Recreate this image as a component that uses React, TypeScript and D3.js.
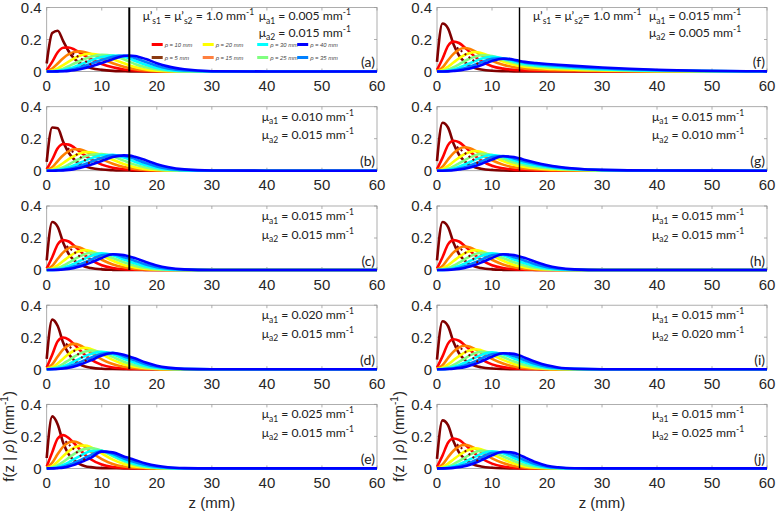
import React from 'react';
import * as d3 from 'd3';

const Z = [0, 1, 2, 3, 4, 5, 6, 7, 8, 10, 12, 14, 15, 16, 18, 20, 22, 25, 30, 40, 60];
const RHO = [5, 10, 15, 20, 25, 30, 35, 40];
const JET = ['#800000', '#ff0000', '#ff8000', '#ffff00', '#80ff80', '#00ffff', '#0080ff', '#0000ff'];
const X_TICKS = [0, 10, 20, 30, 40, 50, 60];
const Y_TICKS = [0, 0.2, 0.4];
const Y_TICK_LABELS = ['0', '0.2', '0.4'];
const LAYER_DEPTH = 15;
const PANEL_LABELS = ['a', 'b', 'c', 'd', 'e', 'f', 'g', 'h', 'i', 'j'];
const MUA1 = ['0.005', '0.010', '0.015', '0.020', '0.025', '0.015', '0.015', '0.015', '0.015', '0.015'];
const MUA2 = ['0.015', '0.015', '0.015', '0.015', '0.015', '0.005', '0.010', '0.015', '0.020', '0.025'];

// legend: [rho, colour] in display order (two rows of four)
const LEGEND_ROW1 = [[10, '#ff0000'], [20, '#ffff00'], [30, '#00ffff'], [40, '#0000ff']];
const LEGEND_ROW2 = [[5, '#8b3a12'], [15, '#ff8040'], [25, '#80ff80'], [35, '#0080ff']];

const panelA = [
  [0.05, 0.24, 0.255, 0.19, 0.125, 0.08, 0.052, 0.033, 0.022, 0.01, 0.004, 0.002, 0.001, 0.001, 0, 0, 0, 0, 0, 0, 0],
  [0.008, 0.06, 0.12, 0.148, 0.15, 0.138, 0.118, 0.097, 0.078, 0.047, 0.026, 0.013, 0.009, 0.006, 0.002, 0.001, 0, 0, 0, 0, 0],
  [0.002, 0.018, 0.05, 0.083, 0.108, 0.122, 0.126, 0.12, 0.11, 0.08, 0.052, 0.03, 0.021, 0.014, 0.006, 0.002, 0.001, 0, 0, 0, 0],
  [0.001, 0.006, 0.02, 0.04, 0.062, 0.082, 0.098, 0.108, 0.111, 0.1, 0.077, 0.052, 0.039, 0.028, 0.013, 0.005, 0.002, 0, 0, 0, 0],
  [0, 0.002, 0.008, 0.018, 0.033, 0.05, 0.066, 0.08, 0.092, 0.105, 0.098, 0.076, 0.062, 0.047, 0.026, 0.012, 0.005, 0.001, 0, 0, 0],
  [0, 0.001, 0.003, 0.009, 0.018, 0.029, 0.042, 0.056, 0.069, 0.09, 0.1, 0.093, 0.082, 0.067, 0.042, 0.022, 0.01, 0.003, 0, 0, 0],
  [0, 0, 0.001, 0.004, 0.009, 0.016, 0.025, 0.036, 0.048, 0.072, 0.092, 0.1, 0.096, 0.084, 0.06, 0.036, 0.019, 0.006, 0.001, 0, 0],
  [0, 0, 0.001, 0.002, 0.004, 0.008, 0.014, 0.022, 0.031, 0.053, 0.077, 0.097, 0.1, 0.097, 0.078, 0.052, 0.032, 0.014, 0.002, 0, 0],
];
const panelB = [
  [0.055, 0.27, 0.265, 0.18, 0.112, 0.07, 0.043, 0.027, 0.017, 0.007, 0.003, 0.001, 0.001, 0, 0, 0, 0, 0, 0, 0, 0],
  [0.009, 0.07, 0.14, 0.167, 0.163, 0.145, 0.12, 0.094, 0.072, 0.038, 0.019, 0.009, 0.006, 0.004, 0.002, 0, 0, 0, 0, 0, 0],
  [0.003, 0.021, 0.06, 0.096, 0.122, 0.134, 0.133, 0.122, 0.106, 0.072, 0.043, 0.023, 0.016, 0.011, 0.004, 0.002, 0, 0, 0, 0, 0],
  [0.001, 0.008, 0.025, 0.048, 0.072, 0.093, 0.108, 0.116, 0.115, 0.097, 0.068, 0.042, 0.031, 0.022, 0.01, 0.004, 0.001, 0, 0, 0, 0],
  [0, 0.003, 0.01, 0.022, 0.039, 0.058, 0.075, 0.09, 0.1, 0.104, 0.088, 0.063, 0.05, 0.038, 0.02, 0.009, 0.003, 0.001, 0, 0, 0],
  [0, 0.001, 0.004, 0.011, 0.021, 0.034, 0.049, 0.063, 0.077, 0.097, 0.099, 0.082, 0.07, 0.056, 0.034, 0.017, 0.007, 0.002, 0, 0, 0],
  [0, 0, 0.002, 0.005, 0.011, 0.019, 0.03, 0.042, 0.055, 0.08, 0.096, 0.092, 0.085, 0.073, 0.048, 0.027, 0.013, 0.004, 0, 0, 0],
  [0, 0, 0.001, 0.002, 0.005, 0.01, 0.017, 0.026, 0.037, 0.061, 0.085, 0.096, 0.094, 0.087, 0.065, 0.041, 0.023, 0.008, 0.001, 0, 0],
];
const panelC = [
  [0.06, 0.3, 0.27, 0.17, 0.1, 0.06, 0.035, 0.02, 0.012, 0.004, 0.001, 0, 0, 0, 0, 0, 0, 0, 0, 0, 0],
  [0.01, 0.08, 0.16, 0.187, 0.178, 0.152, 0.12, 0.09, 0.065, 0.03, 0.013, 0.005, 0.003, 0.002, 0.001, 0, 0, 0, 0, 0, 0],
  [0.003, 0.025, 0.07, 0.11, 0.137, 0.147, 0.14, 0.124, 0.103, 0.064, 0.035, 0.017, 0.011, 0.007, 0.003, 0.001, 0, 0, 0, 0, 0],
  [0.001, 0.009, 0.03, 0.056, 0.082, 0.104, 0.118, 0.124, 0.118, 0.09, 0.058, 0.032, 0.023, 0.016, 0.007, 0.003, 0.001, 0, 0, 0, 0],
  [0, 0.003, 0.012, 0.027, 0.046, 0.066, 0.085, 0.1, 0.108, 0.1, 0.075, 0.048, 0.037, 0.027, 0.013, 0.005, 0.002, 0, 0, 0, 0],
  [0, 0.001, 0.005, 0.013, 0.025, 0.04, 0.056, 0.072, 0.087, 0.104, 0.092, 0.066, 0.053, 0.042, 0.022, 0.01, 0.004, 0.001, 0, 0, 0],
  [0, 0, 0.002, 0.006, 0.013, 0.023, 0.035, 0.049, 0.064, 0.092, 0.098, 0.08, 0.07, 0.058, 0.035, 0.018, 0.008, 0.002, 0, 0, 0],
  [0, 0, 0.001, 0.003, 0.007, 0.013, 0.022, 0.033, 0.046, 0.075, 0.098, 0.093, 0.085, 0.075, 0.05, 0.028, 0.014, 0.004, 0, 0, 0],
];
const panelD = [
  [0.065, 0.31, 0.27, 0.165, 0.095, 0.055, 0.031, 0.017, 0.01, 0.003, 0.001, 0, 0, 0, 0, 0, 0, 0, 0, 0, 0],
  [0.011, 0.09, 0.175, 0.198, 0.185, 0.155, 0.12, 0.088, 0.061, 0.027, 0.011, 0.004, 0.002, 0.001, 0, 0, 0, 0, 0, 0, 0],
  [0.004, 0.03, 0.08, 0.124, 0.15, 0.158, 0.15, 0.13, 0.105, 0.062, 0.032, 0.015, 0.01, 0.006, 0.002, 0.001, 0, 0, 0, 0, 0],
  [0.001, 0.012, 0.036, 0.066, 0.095, 0.117, 0.13, 0.134, 0.127, 0.094, 0.058, 0.031, 0.022, 0.015, 0.006, 0.002, 0, 0, 0, 0, 0],
  [0, 0.005, 0.016, 0.034, 0.056, 0.078, 0.097, 0.11, 0.117, 0.106, 0.077, 0.047, 0.035, 0.025, 0.011, 0.004, 0.001, 0, 0, 0, 0],
  [0, 0.002, 0.007, 0.017, 0.032, 0.049, 0.066, 0.082, 0.095, 0.108, 0.094, 0.065, 0.052, 0.04, 0.02, 0.009, 0.003, 0.001, 0, 0, 0],
  [0, 0.001, 0.003, 0.008, 0.017, 0.029, 0.043, 0.058, 0.072, 0.097, 0.102, 0.08, 0.068, 0.055, 0.031, 0.015, 0.006, 0.001, 0, 0, 0],
  [0, 0, 0.001, 0.004, 0.009, 0.017, 0.028, 0.041, 0.055, 0.085, 0.101, 0.09, 0.08, 0.068, 0.042, 0.022, 0.01, 0.002, 0, 0, 0],
];
const panelE = [
  [0.065, 0.325, 0.275, 0.16, 0.088, 0.049, 0.027, 0.014, 0.008, 0.002, 0.001, 0, 0, 0, 0, 0, 0, 0, 0, 0, 0],
  [0.012, 0.1, 0.187, 0.208, 0.19, 0.156, 0.118, 0.084, 0.057, 0.024, 0.009, 0.003, 0.002, 0.001, 0, 0, 0, 0, 0, 0, 0],
  [0.004, 0.035, 0.09, 0.136, 0.162, 0.168, 0.156, 0.132, 0.104, 0.058, 0.028, 0.012, 0.008, 0.005, 0.002, 0, 0, 0, 0, 0, 0],
  [0.001, 0.014, 0.043, 0.077, 0.108, 0.13, 0.142, 0.143, 0.133, 0.094, 0.055, 0.028, 0.019, 0.012, 0.005, 0.002, 0, 0, 0, 0, 0],
  [0, 0.006, 0.02, 0.041, 0.066, 0.091, 0.11, 0.122, 0.127, 0.11, 0.076, 0.044, 0.032, 0.022, 0.009, 0.003, 0.001, 0, 0, 0, 0],
  [0, 0.002, 0.009, 0.021, 0.038, 0.058, 0.077, 0.095, 0.108, 0.11, 0.082, 0.05, 0.038, 0.029, 0.014, 0.006, 0.002, 0, 0, 0, 0],
  [0, 0.001, 0.004, 0.01, 0.021, 0.035, 0.05, 0.067, 0.083, 0.108, 0.092, 0.062, 0.05, 0.04, 0.022, 0.01, 0.004, 0.001, 0, 0, 0],
  [0, 0, 0.002, 0.005, 0.012, 0.022, 0.036, 0.05, 0.066, 0.105, 0.1, 0.075, 0.064, 0.053, 0.031, 0.016, 0.007, 0.002, 0, 0, 0],
];
const panelF = [
  [0.06, 0.3, 0.27, 0.17, 0.1, 0.06, 0.035, 0.02, 0.013, 0.005, 0.002, 0.001, 0.001, 0.001, 0, 0, 0, 0, 0, 0, 0],
  [0.01, 0.08, 0.16, 0.187, 0.178, 0.152, 0.12, 0.09, 0.066, 0.033, 0.018, 0.01, 0.008, 0.007, 0.005, 0.004, 0.003, 0.002, 0.001, 0, 0],
  [0.003, 0.025, 0.07, 0.11, 0.137, 0.147, 0.14, 0.124, 0.104, 0.067, 0.042, 0.027, 0.022, 0.018, 0.013, 0.01, 0.008, 0.006, 0.003, 0.001, 0],
  [0.001, 0.009, 0.03, 0.056, 0.082, 0.103, 0.116, 0.122, 0.116, 0.09, 0.062, 0.042, 0.035, 0.03, 0.023, 0.018, 0.015, 0.011, 0.007, 0.002, 0],
  [0, 0.003, 0.012, 0.027, 0.045, 0.064, 0.081, 0.094, 0.102, 0.096, 0.074, 0.054, 0.046, 0.04, 0.032, 0.026, 0.022, 0.017, 0.011, 0.004, 0],
  [0, 0.001, 0.005, 0.013, 0.024, 0.038, 0.052, 0.066, 0.079, 0.092, 0.082, 0.063, 0.055, 0.048, 0.04, 0.034, 0.029, 0.023, 0.015, 0.006, 0],
  [0, 0, 0.002, 0.006, 0.012, 0.021, 0.032, 0.044, 0.056, 0.08, 0.083, 0.07, 0.062, 0.055, 0.047, 0.041, 0.036, 0.029, 0.02, 0.008, 0.001],
  [0, 0, 0.001, 0.003, 0.006, 0.012, 0.019, 0.028, 0.039, 0.066, 0.08, 0.074, 0.066, 0.06, 0.053, 0.047, 0.042, 0.035, 0.025, 0.011, 0.001],
];
const panelG = [
  [0.06, 0.3, 0.27, 0.17, 0.1, 0.06, 0.035, 0.02, 0.012, 0.004, 0.001, 0, 0, 0, 0, 0, 0, 0, 0, 0, 0],
  [0.01, 0.08, 0.16, 0.187, 0.178, 0.152, 0.12, 0.09, 0.065, 0.031, 0.015, 0.007, 0.005, 0.004, 0.002, 0.001, 0, 0, 0, 0, 0],
  [0.003, 0.025, 0.07, 0.11, 0.137, 0.147, 0.14, 0.124, 0.103, 0.065, 0.038, 0.021, 0.016, 0.012, 0.008, 0.005, 0.003, 0.002, 0, 0, 0],
  [0.001, 0.009, 0.03, 0.056, 0.082, 0.104, 0.117, 0.123, 0.117, 0.09, 0.06, 0.037, 0.029, 0.023, 0.015, 0.01, 0.007, 0.004, 0.001, 0, 0],
  [0, 0.003, 0.012, 0.027, 0.046, 0.065, 0.083, 0.097, 0.105, 0.098, 0.075, 0.051, 0.042, 0.035, 0.024, 0.016, 0.011, 0.006, 0.002, 0, 0],
  [0, 0.001, 0.005, 0.013, 0.025, 0.039, 0.054, 0.069, 0.083, 0.098, 0.087, 0.065, 0.055, 0.046, 0.033, 0.023, 0.016, 0.009, 0.003, 0, 0],
  [0, 0, 0.002, 0.006, 0.013, 0.022, 0.033, 0.046, 0.057, 0.086, 0.092, 0.076, 0.067, 0.057, 0.042, 0.03, 0.021, 0.012, 0.004, 0.001, 0],
  [0, 0, 0.001, 0.003, 0.007, 0.012, 0.02, 0.03, 0.042, 0.07, 0.09, 0.085, 0.077, 0.067, 0.05, 0.036, 0.025, 0.014, 0.005, 0.001, 0],
];
const panelH = [
  [0.06, 0.3, 0.27, 0.17, 0.1, 0.06, 0.035, 0.02, 0.012, 0.004, 0.001, 0, 0, 0, 0, 0, 0, 0, 0, 0, 0],
  [0.01, 0.08, 0.16, 0.187, 0.178, 0.152, 0.12, 0.09, 0.065, 0.03, 0.013, 0.005, 0.003, 0.002, 0.001, 0, 0, 0, 0, 0, 0],
  [0.003, 0.025, 0.07, 0.11, 0.137, 0.147, 0.14, 0.124, 0.103, 0.064, 0.035, 0.017, 0.011, 0.007, 0.003, 0.001, 0, 0, 0, 0, 0],
  [0.001, 0.009, 0.03, 0.056, 0.082, 0.104, 0.118, 0.124, 0.118, 0.09, 0.058, 0.032, 0.023, 0.016, 0.007, 0.003, 0.001, 0, 0, 0, 0],
  [0, 0.003, 0.012, 0.027, 0.046, 0.066, 0.085, 0.1, 0.108, 0.1, 0.075, 0.048, 0.037, 0.027, 0.013, 0.005, 0.002, 0, 0, 0, 0],
  [0, 0.001, 0.005, 0.013, 0.025, 0.04, 0.056, 0.072, 0.087, 0.104, 0.092, 0.066, 0.053, 0.042, 0.022, 0.01, 0.004, 0.001, 0, 0, 0],
  [0, 0, 0.002, 0.006, 0.013, 0.023, 0.035, 0.049, 0.064, 0.092, 0.098, 0.08, 0.07, 0.058, 0.035, 0.018, 0.008, 0.002, 0, 0, 0],
  [0, 0, 0.001, 0.003, 0.007, 0.013, 0.022, 0.033, 0.046, 0.075, 0.098, 0.093, 0.085, 0.075, 0.05, 0.028, 0.014, 0.004, 0, 0, 0],
];
const panelI = [
  [0.06, 0.3, 0.27, 0.17, 0.1, 0.06, 0.035, 0.02, 0.012, 0.004, 0.001, 0, 0, 0, 0, 0, 0, 0, 0, 0, 0],
  [0.01, 0.08, 0.16, 0.187, 0.178, 0.152, 0.12, 0.09, 0.065, 0.03, 0.013, 0.005, 0.003, 0.002, 0.001, 0, 0, 0, 0, 0, 0],
  [0.003, 0.025, 0.07, 0.11, 0.137, 0.147, 0.14, 0.124, 0.104, 0.064, 0.035, 0.017, 0.01, 0.006, 0.002, 0.001, 0, 0, 0, 0, 0],
  [0.001, 0.009, 0.03, 0.056, 0.082, 0.104, 0.118, 0.125, 0.119, 0.09, 0.058, 0.032, 0.022, 0.015, 0.006, 0.002, 0, 0, 0, 0, 0],
  [0, 0.003, 0.012, 0.027, 0.046, 0.066, 0.086, 0.101, 0.109, 0.101, 0.076, 0.048, 0.036, 0.026, 0.012, 0.005, 0.002, 0, 0, 0, 0],
  [0, 0.001, 0.005, 0.013, 0.025, 0.04, 0.057, 0.073, 0.089, 0.106, 0.093, 0.067, 0.053, 0.041, 0.021, 0.009, 0.004, 0.001, 0, 0, 0],
  [0, 0, 0.002, 0.006, 0.013, 0.023, 0.036, 0.05, 0.066, 0.094, 0.1, 0.082, 0.07, 0.056, 0.032, 0.016, 0.007, 0.002, 0, 0, 0],
  [0, 0, 0.001, 0.003, 0.007, 0.013, 0.023, 0.034, 0.048, 0.078, 0.1, 0.096, 0.086, 0.072, 0.045, 0.024, 0.011, 0.003, 0, 0, 0],
];
const panelJ = [
  [0.06, 0.3, 0.27, 0.17, 0.1, 0.06, 0.035, 0.02, 0.012, 0.004, 0.001, 0, 0, 0, 0, 0, 0, 0, 0, 0, 0],
  [0.01, 0.08, 0.16, 0.187, 0.178, 0.152, 0.12, 0.09, 0.065, 0.03, 0.012, 0.004, 0.002, 0.001, 0, 0, 0, 0, 0, 0, 0],
  [0.003, 0.025, 0.07, 0.11, 0.137, 0.147, 0.14, 0.124, 0.104, 0.063, 0.034, 0.015, 0.009, 0.005, 0.001, 0, 0, 0, 0, 0, 0],
  [0.001, 0.009, 0.03, 0.056, 0.082, 0.104, 0.118, 0.125, 0.12, 0.09, 0.057, 0.03, 0.02, 0.012, 0.004, 0.001, 0, 0, 0, 0, 0],
  [0, 0.003, 0.012, 0.027, 0.046, 0.066, 0.086, 0.102, 0.11, 0.102, 0.076, 0.046, 0.033, 0.022, 0.009, 0.003, 0.001, 0, 0, 0, 0],
  [0, 0.001, 0.005, 0.013, 0.025, 0.04, 0.057, 0.074, 0.09, 0.107, 0.094, 0.065, 0.05, 0.036, 0.017, 0.006, 0.002, 0, 0, 0, 0],
  [0, 0, 0.002, 0.006, 0.013, 0.023, 0.036, 0.051, 0.068, 0.096, 0.101, 0.081, 0.066, 0.05, 0.026, 0.011, 0.004, 0.001, 0, 0, 0],
  [0, 0, 0.001, 0.003, 0.007, 0.013, 0.023, 0.035, 0.05, 0.082, 0.104, 0.097, 0.084, 0.068, 0.038, 0.017, 0.007, 0.001, 0, 0, 0],
];

// dotted dark-red guide line in each panel: [z, f] end points
const dotsA = [[3.9, 0.13], [8.2, 0.04]];
const dotsB = [[3.8, 0.14], [7.8, 0.045]];
const dotsC = [[3.6, 0.15], [7.5, 0.045]];
const dotsD = [[3.5, 0.16], [7.2, 0.05]];
const dotsE = [[3.4, 0.17], [7.0, 0.05]];
const dotsR = [[3.6, 0.15], [7.5, 0.045]];

const PANEL_DATA = [panelA, panelB, panelC, panelD, panelE, panelF, panelG, panelH, panelI, panelJ];
const PANEL_DOTS = [dotsA, dotsB, dotsC, dotsD, dotsE, dotsR, dotsR, dotsR, dotsR, dotsR];

// layout
const COL_X = [[46.7, 377], [437, 767]];
const ROW_TOP = [7.5, 106.7, 206, 305.2, 404.4];
const PH = 64;
const TICK_FONT = "'Liberation Sans', Arial, sans-serif";
const ANN_FONT = "Lato, 'Liberation Sans', sans-serif";
const TXT = '#262626';

function MuLine({ x, y, sub, value }: { x: number; y: number; sub: string; value: string }) {
  return (
    <text x={x} y={y} fontFamily={ANN_FONT} fontSize={12.2} fill="#222">
      <tspan>μ</tspan>
      <tspan dy={3.5} fontSize={8.5}>{sub}</tspan>
      <tspan dy={-3.5}>{` = ${value} mm`}</tspan>
      <tspan dy={-5} fontSize={8.5}>-1</tspan>
    </text>
  );
}

function Panel({ idx }: { idx: number }) {
  const col = idx < 5 ? 0 : 1;
  const row = idx % 5;
  const [x0, x1] = COL_X[col];
  const y0 = ROW_TOP[row];
  const y1 = y0 + PH;
  const xs = d3.scaleLinear().domain([0, 60]).range([x0, x1]);
  const ys = d3.scaleLinear().domain([0, 0.4]).range([y1, y0]);
  const line = d3
    .line<[number, number]>()
    .x((d) => xs(d[0]))
    .y((d) => ys(d[1]))
    .curve(d3.curveMonotoneX);
  const data = PANEL_DATA[idx];
  const dots = PANEL_DOTS[idx] as [number, number][];
  const straight = d3.line<[number, number]>().x((d) => xs(d[0])).y((d) => ys(d[1]));
  const axisColor = '#9a9a9a';
  return (
    <g>
      <rect x={x0} y={y0} width={x1 - x0} height={PH} fill="white" stroke={axisColor} strokeWidth={0.8} />
      {X_TICKS.map((t) => (
        <g key={'xt' + t}>
          <line x1={xs(t)} x2={xs(t)} y1={y1} y2={y1 - 3} stroke={axisColor} strokeWidth={0.8} />
          <line x1={xs(t)} x2={xs(t)} y1={y0} y2={y0 + 3} stroke={axisColor} strokeWidth={0.8} />
          <text x={xs(t)} y={y1 + 19.5} textAnchor="middle" fontFamily={TICK_FONT} fontSize={15} fill={TXT}>
            {t}
          </text>
        </g>
      ))}
      {Y_TICKS.map((t, i) => (
        <g key={'yt' + t}>
          <line x1={x0} x2={x0 + 3} y1={ys(t)} y2={ys(t)} stroke={axisColor} strokeWidth={0.8} />
          <line x1={x1} x2={x1 - 3} y1={ys(t)} y2={ys(t)} stroke={axisColor} strokeWidth={0.8} />
          <text x={x0 - 5} y={ys(t) + 5.3} textAnchor="end" fontFamily={TICK_FONT} fontSize={15} fill={TXT}>
            {Y_TICK_LABELS[i]}
          </text>
        </g>
      ))}
      {data.map((vals, k) => (
        <path
          key={'c' + RHO[k]}
          d={line(Z.map((z, j) => [z, vals[j]] as [number, number])) || ''}
          fill="none"
          stroke={JET[k]}
          strokeWidth={2.6}
          strokeLinejoin="round"
        />
      ))}
      <path d={straight(dots) || ''} fill="none" stroke="#800000" strokeWidth={2} strokeDasharray="2,3" />
      <line
        x1={xs(LAYER_DEPTH)}
        x2={xs(LAYER_DEPTH)}
        y1={y0}
        y2={y1}
        stroke="#000"
        strokeWidth={col === 0 ? 2 : 1.4}
      />
      {row === 0 && (
        <text x={x0 + 96} y={y0 + 12.5} fontFamily={ANN_FONT} fontSize={12.2} fill="#222">
          <tspan>μ’</tspan>
          <tspan dy={3.5} fontSize={8.5}>s1</tspan>
          <tspan dy={-3.5}>{' = μ’'}</tspan>
          <tspan dy={3.5} fontSize={8.5}>s2</tspan>
          <tspan dy={-3.5}>{col === 0 ? ' = 1.0 mm' : '= 1.0 mm'}</tspan>
          <tspan dy={-5} fontSize={8.5}>-1</tspan>
        </text>
      )}
      <MuLine x={x0 + (row === 0 ? 212 : 215)} y={y0 + (row === 0 ? 12.5 : 14)} sub="a1" value={MUA1[idx]} />
      <MuLine x={x0 + (row === 0 ? 212 : 215)} y={y0 + (row === 0 ? 29 : 32.5)} sub="a2" value={MUA2[idx]} />
      {idx === 0 && (
        <g>
          {[LEGEND_ROW1, LEGEND_ROW2].map((rowItems, r) =>
            rowItems.map(([rho, color], c) => {
              const lx = x0 + [105, 156, 210.5, 250.5][c];
              const ly = y0 + (r === 0 ? 37 : 50);
              return (
                <g key={'lg' + rho}>
                  <line x1={lx} x2={lx + 11} y1={ly} y2={ly} stroke={color as string} strokeWidth={3} />
                  <text
                    x={lx + 13}
                    y={ly + 2}
                    fontFamily={TICK_FONT}
                    fontStyle="italic"
                    fontSize={5.8}
                    fill="#444"
                  >
                    {`ρ = ${rho} mm`}
                  </text>
                </g>
              );
            })
          )}
        </g>
      )}
      <text x={x1 - 2} y={y0 + 59.5} textAnchor="end" fontFamily={ANN_FONT} fontSize={14} fill="#222">
        {`(${PANEL_LABELS[idx]})`}
      </text>
    </g>
  );
}

export default function App() {
  const yMid = ROW_TOP[4] + PH / 2;
  return (
    <svg width={778} height={513} style={{ position: 'absolute', left: 0, top: 0, background: 'white' }}>
      <rect width={778} height={513} fill="white" />
      {PANEL_LABELS.map((_, i) => (
        <Panel key={i} idx={i} />
      ))}
      {[10, 400].map((lx, c) => (
        <text
          key={'yl' + c}
          transform={`translate(${lx + 4},${yMid}) rotate(-90)`}
          textAnchor="middle"
          fontFamily={TICK_FONT}
          fontSize={15}
          fill={TXT}
        >
          <tspan>f(z | </tspan>
          <tspan fontStyle="italic">ρ</tspan>
          <tspan>) (mm</tspan>
          <tspan dy={-6} fontSize={10}>-1</tspan>
          <tspan dy={6}>)</tspan>
        </text>
      ))}
      {COL_X.map(([a, b], c) => (
        <text
          key={'xl' + c}
          x={(a + b) / 2}
          y={508}
          textAnchor="middle"
          fontFamily={TICK_FONT}
          fontSize={15}
          fill={TXT}
        >
          z (mm)
        </text>
      ))}
    </svg>
  );
}
